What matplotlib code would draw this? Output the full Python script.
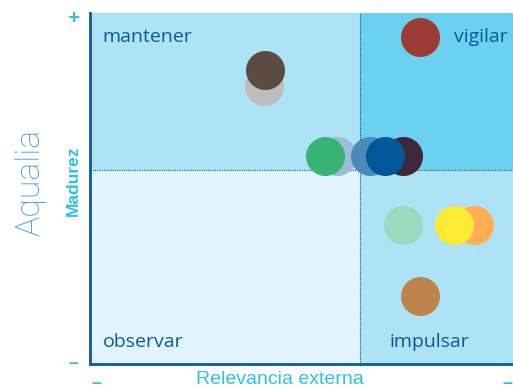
import matplotlib
matplotlib.use("Agg")
import matplotlib.pyplot as plt
from matplotlib.patches import Rectangle

# Data (relevancia externa, madurez) in 0..10 scale
names = ["gris", "marron", "rojo", "verde_azul", "verde", "acero", "morado", "azul",
         "verde_claro", "naranja", "amarillo", "ocre"]
relevancia = [3.22, 3.24, 6.11, 4.57, 4.35, 5.19, 5.80, 5.46, 5.80, 7.11, 6.74, 6.11]
madurez = [7.92, 8.38, 9.32, 5.93, 5.93, 5.93, 5.93, 5.93, 3.96, 3.96, 3.96, 1.94]
colors = ["#BEBEBE", "#5B4B43", "#9B3D35", "#9DBDD7", "#37B474", "#4A8ABA", "#3F2739",
          "#01579A", "#9ED9BD", "#FFAE56", "#FFEA33", "#BD844E"]

quadrant_labels = ["mantener", "vigilar", "observar", "impulsar"]
x_mid, y_mid = 5.0, 5.53

W, H = 513, 390
fig = plt.figure(figsize=(W / 100, H / 100), dpi=100)
ax = fig.add_axes([90 / W, (H - 364) / H, 540 / W, (364 - 13) / H])
ax.set_xlim(0, 10)
ax.set_ylim(0, 10)

ax.add_patch(Rectangle((0, y_mid), x_mid, 10 - y_mid, color="#ADE3F4", zorder=0, lw=0))
ax.add_patch(Rectangle((x_mid, y_mid), 10 - x_mid, 10 - y_mid, color="#6BD1EF", zorder=0, lw=0))
ax.add_patch(Rectangle((0, 0), x_mid, y_mid, color="#E1F4FB", zorder=0, lw=0))
ax.add_patch(Rectangle((x_mid, 0), 10 - x_mid, y_mid, color="#ADE3F4", zorder=0, lw=0))
ax.axvline(x_mid, color="#0B5A9C", lw=0.8, ls=(0, (1, 1)), zorder=1)
ax.axhline(y_mid, color="#0B5A9C", lw=0.8, ls=(0, (1, 1)), zorder=1)

for xv, yv, c in zip(relevancia, madurez, colors):
    ax.scatter([xv], [yv], s=790, color=c, linewidths=0, zorder=3)

tc = "#0B5A9C"
fs = 14
kw = dict(color=tc, fontsize=fs, va="center", ha="left", family="Open Sans", weight="medium")
ax.text(0.23, 9.33, quadrant_labels[0], **kw)
ax.text(6.74, 9.33, quadrant_labels[1], **kw)
ax.text(0.23, 0.64, quadrant_labels[2], **kw)
ax.text(5.55, 0.64, quadrant_labels[3], **kw)

for s in ["top", "right"]:
    ax.spines[s].set_visible(False)
for s in ["left", "bottom"]:
    ax.spines[s].set_color("#0B5A9C")
    ax.spines[s].set_linewidth(2)
ax.set_xticks([])
ax.set_yticks([])

cyan = "#2EC0E8"
fig.text(30 / W, 1 - 182 / H, "Aqualia", rotation=90, color="#3F9ADD", fontsize=24.5,
         family="Roboto", weight="light", ha="center", va="center")
fig.text(73 / W, 1 - 181 / H, "Madurez", rotation=90, color=cyan, fontsize=12.5,
         family="Liberation Sans", weight="bold", ha="center", va="center")
fig.text(280 / W, 1 - 380 / H, "Relevancia externa", color=cyan, fontsize=14,
         family="Liberation Sans", ha="center", va="center")
fig.text(73 / W, 1 - 19 / H, "+", color=cyan, fontsize=15, weight="bold",
         family="Liberation Sans", ha="center", va="center")
fig.text(73 / W, 1 - 364 / H, "–", color=cyan, fontsize=13, weight="bold",
         family="Liberation Sans", ha="center", va="center")
fig.text(96 / W, 1 - 383 / H, "–", color=cyan, fontsize=13, weight="bold",
         family="Liberation Sans", ha="center", va="center")
fig.text(512 / W, 1 - 383 / H, "–", color=cyan, fontsize=13, weight="bold",
         family="Liberation Sans", ha="right", va="center")

fig.savefig("out.png", dpi=100)
